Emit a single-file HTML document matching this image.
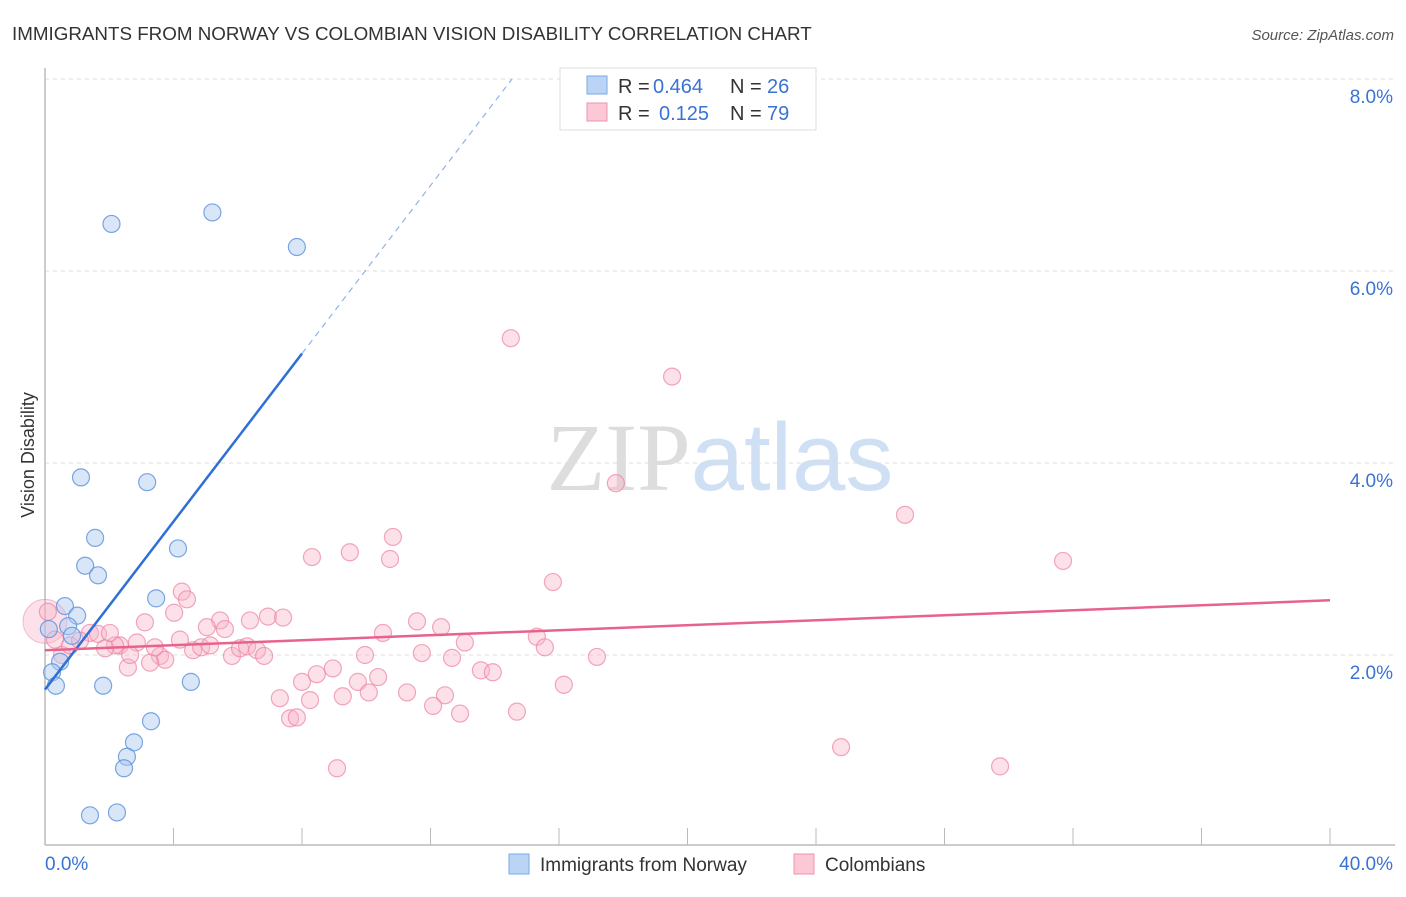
<!DOCTYPE html>
<html><head><meta charset="utf-8"><style>
body{margin:0;background:#fff;font-family:"Liberation Sans",sans-serif;}
svg text{font-family:"Liberation Sans",sans-serif;}
</style></head><body>
<svg id="chart" width="1406" height="892" xmlns="http://www.w3.org/2000/svg">
<text x="12" y="40" font-size="18.8" fill="#333">IMMIGRANTS FROM NORWAY VS COLOMBIAN VISION DISABILITY CORRELATION CHART</text>
<text x="1394" y="40" font-size="15" fill="#555" text-anchor="end" font-style="italic">Source: ZipAtlas.com</text>
<text transform="translate(34,455) rotate(-90)" font-size="18" fill="#333" text-anchor="middle">Vision Disability</text>
<text x="720" y="490" font-size="96" text-anchor="middle"><tspan fill="#ddd" font-family="Liberation Serif">ZIP</tspan><tspan fill="#cfe0f5">atlas</tspan></text>
<g id="grid"></g><g id="axes"></g><g id="pts"></g><g id="lines"></g>
<g>
<rect x="560" y="68" width="256" height="62" fill="#fff" stroke="#ddd"/>
<rect x="587" y="76" width="20" height="18" fill="#b9d4f5" stroke="#7aaae6"/>
<text x="618" y="93" font-size="20" fill="#333">R =</text>
<text x="653" y="93" font-size="20" fill="#3a73d4">0.464</text>
<text x="730" y="93" font-size="20" fill="#333">N =</text>
<text x="767" y="93" font-size="20" fill="#3a73d4">26</text>
<rect x="587" y="103" width="20" height="18" fill="#fcc8d6" stroke="#ec93ad"/>
<text x="618" y="120" font-size="20" fill="#333">R =</text>
<text x="659" y="120" font-size="20" fill="#3a73d4">0.125</text>
<text x="730" y="120" font-size="20" fill="#333">N =</text>
<text x="767" y="120" font-size="20" fill="#3a73d4">79</text>
</g>
<g>
<rect x="509" y="854" width="20" height="20" fill="#b9d4f5" stroke="#7aaae6"/>
<text x="540" y="871" font-size="19" fill="#333">Immigrants from Norway</text>
<rect x="794" y="854" width="20" height="20" fill="#fcc8d6" stroke="#ec93ad"/>
<text x="825" y="871" font-size="19" fill="#333">Colombians</text>
</g>
</svg>
<script>
const yTicks=[2,4,6,8];
const yTickLabels=["2.0%","4.0%","6.0%","8.0%"];
const xTickLabels=["0.0%","40.0%"];
const norwayX=[2.07,5.21,7.84,1.12,3.18,1.56,4.14,1.25,1.65,3.46,0.62,1.00,0.72,0.12,0.84,0.47,0.22,0.34,1.81,4.54,3.30,2.77,2.55,2.46,1.40,2.24];
const norwayY=[6.49,6.61,6.25,3.85,3.80,3.22,3.11,2.93,2.83,2.59,2.51,2.41,2.30,2.27,2.20,1.93,1.82,1.68,1.68,1.72,1.31,1.09,0.94,0.82,0.33,0.36];
const colX=[14.50,19.52,17.77,26.77,31.69,10.83,8.31,9.49,10.74,15.81,4.26,4.42,4.02,3.11,5.45,6.38,6.94,7.41,11.58,12.33,10.52,13.07,15.31,15.56,5.04,5.60,1.40,1.65,2.33,2.86,2.18,3.58,3.74,3.27,4.61,4.86,5.14,5.82,6.07,6.29,6.60,6.82,9.96,11.73,12.67,17.18,2.58,8.96,8.00,8.46,9.74,10.37,13.57,13.94,16.15,7.31,8.25,9.27,10.08,11.27,12.45,12.08,12.92,14.69,7.63,7.84,9.09,24.78,29.73,0.31,0.53,0.78,1.09,0.09,1.87,2.02,2.65,3.42,4.20];
const colY=[5.30,4.90,3.79,3.46,2.98,3.23,3.02,3.07,3.00,2.76,2.66,2.58,2.44,2.34,2.36,2.36,2.40,2.39,2.35,2.29,2.23,2.13,2.19,2.08,2.29,2.27,2.23,2.22,2.10,2.13,2.10,1.99,1.95,1.92,2.05,2.08,2.10,1.99,2.07,2.09,2.05,1.99,2.00,2.02,1.97,1.98,1.87,1.86,1.72,1.80,1.72,1.77,1.84,1.82,1.69,1.55,1.53,1.57,1.61,1.61,1.58,1.47,1.39,1.41,1.34,1.35,0.82,1.04,0.84,2.16,2.00,2.10,2.15,2.45,2.07,2.23,2.00,2.08,2.16];
const trendNorway=[0,1.64,8,5.14];
const trendCol=[0,2.05,40,2.57];
const X=v=>45+v/40*1285, Y=v=>847-v*96;
const NS="http://www.w3.org/2000/svg";
function mk(p,t,a){const e=document.createElementNS(NS,t);for(const k in a)e.setAttribute(k,a[k]);document.getElementById(p).appendChild(e);return e;}
yTicks.forEach((t,i)=>{
 const g=mk('grid','line',{x1:45,x2:1395,y1:Y(t),y2:Y(t),stroke:'#ddd','stroke-dasharray':'4,4'});
 
 
 const l=mk('grid','text',{x:1393,y:Y(t)+24,'font-size':19,fill:'#3a73d4','text-anchor':'end'});l.textContent=yTickLabels[i];
 
 
});
const ax=mk('axes','line',{x1:45,x2:1395,y1:845,y2:845,stroke:'#bbb','stroke-width':1.5});


const ay=mk('axes','line',{x1:45,x2:45,y1:68,y2:845,stroke:'#bbb','stroke-width':1.5});


for(let i=0;i<=10;i++){const t=mk('axes','line',{x1:X(i*4),x2:X(i*4),y1:828,y2:845,stroke:'#bbb'});
 
 }
const xl0=mk('axes','text',{x:45,y:870,'font-size':19,fill:'#3a73d4'});xl0.textContent=xTickLabels[0];


const xl1=mk('axes','text',{x:1393,y:870,'font-size':19,fill:'#3a73d4','text-anchor':'end'});xl1.textContent=xTickLabels[1];


const big=mk('pts','circle',{cx:X(0),cy:Y(2.35),r:22,fill:'rgba(248,170,195,0.35)',stroke:'rgba(236,130,165,0.5)'});


colX.forEach((v,i)=>{const c=mk('pts','circle',{cx:X(v),cy:Y(colY[i]),r:8.5,fill:'rgba(248,180,200,0.4)',stroke:'rgba(236,130,165,0.7)','stroke-width':1.2});
 
 });
norwayX.forEach((v,i)=>{const c=mk('pts','circle',{cx:X(v),cy:Y(norwayY[i]),r:8.5,fill:'rgba(170,200,240,0.45)',stroke:'rgba(90,145,220,0.8)','stroke-width':1.2});
 
 });
const tn=mk('lines','line',{x1:X(trendNorway[0]),y1:Y(trendNorway[1]),x2:X(trendNorway[2]),y2:Y(trendNorway[3]),stroke:'#2f6fd6','stroke-width':2.5});


const slope=(trendNorway[3]-trendNorway[1])/(trendNorway[2]-trendNorway[0]);
const xe=(8-trendNorway[1])/slope;
const td=mk('lines','line',{x1:X(trendNorway[2]),y1:Y(trendNorway[3]),x2:X(xe),y2:Y(8),stroke:'#8fb2e6','stroke-width':1.2,'stroke-dasharray':'6,5'});


const tc=mk('lines','line',{x1:X(trendCol[0]),y1:Y(trendCol[1]),x2:X(trendCol[2]),y2:Y(trendCol[3]),stroke:'#e8628e','stroke-width':2.5});


</script>
</body></html>
